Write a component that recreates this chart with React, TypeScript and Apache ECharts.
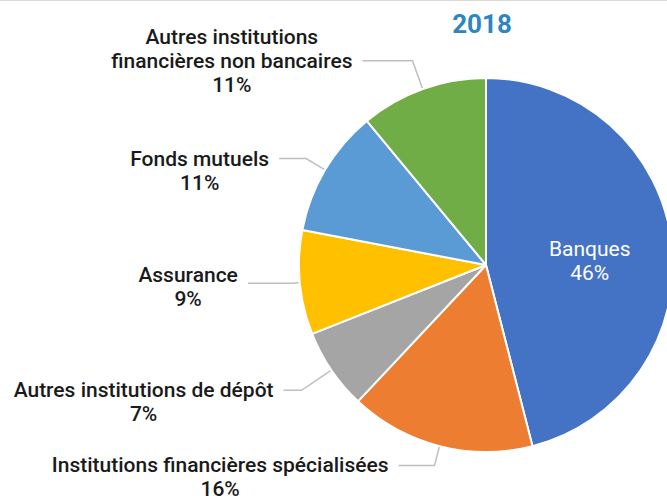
import React, { useEffect, useRef } from "react";
import * as echarts from "echarts";

const title = "2018";
const categories = [
  "Banques",
  "Institutions financières spécialisées",
  "Autres institutions de dépôt",
  "Assurance",
  "Fonds mutuels",
  "Autres institutions\nfinancières non bancaires",
];
const values = [46, 16, 7, 9, 11, 11];
const colors = ["#4472C4", "#ED7D31", "#A5A5A5", "#FFC000", "#5B9BD5", "#70AD47"];
// leader line lengths per slice [length, length2]
const lineLengths: [number, number][] = [
  [0, 0],
  [20, 36],
  [36, 18],
  [7, 45],
  [22, 27],
  [30, 50],
];
// top padding per label (shifts the text block relative to its leader line)
const labelTopPad = [16, 24, 24, 8, 24, 0];

const FONT = "Roboto, 'Noto Sans', sans-serif";

export default function App() {
  const ref = useRef<HTMLDivElement>(null);
  useEffect(() => {
    if (!ref.current) return;
    const chart = echarts.init(ref.current, undefined, { renderer: "svg" });
    const data = categories.map((name, i) => {
      const item: any = {
        name,
        value: values[i],
        itemStyle: { color: colors[i] },
      };
      if (i === 0) {
        item.label = {
          position: "inside",
          padding: [labelTopPad[i], 0, 0, 16],
          formatter: (p: any) => `{w|${p.name}}\n{w|${p.value}%}`,
          rich: {
            w: {
              color: "#ffffff",
              fontSize: 21,
              fontFamily: FONT,
              fontWeight: 400,
              lineHeight: 24,
              align: "center",
            },
          },
        };
      } else {
        item.labelLine = { length: lineLengths[i][0], length2: lineLengths[i][1] };
        item.label = { padding: [labelTopPad[i], 0, 0, 0] };
      }
      return item;
    });
    chart.setOption({
      animation: false,
      backgroundColor: "#ffffff",
      graphic: [
        {
          type: "line",
          shape: { x1: 0, y1: 0.5, x2: 667, y2: 0.5 },
          style: { stroke: "#D9D9D9", lineWidth: 1 },
        },
        {
          type: "text",
          x: 482,
          y: 24,
          style: {
            text: title,
            align: "center",
            verticalAlign: "middle",
            fontSize: 26,
            fontWeight: "bold",
            fontFamily: FONT,
            fill: "#2E86C1",
          },
        },
      ],
      series: [
        {
          type: "pie",
          center: [486, 265],
          radius: 187,
          startAngle: 90,
          clockwise: true,
          avoidLabelOverlap: false,
          itemStyle: { borderColor: "#ffffff", borderWidth: 2 },
          label: {
            show: true,
            position: "outside",
            distanceToLabelLine: 10,
            formatter: (p: any) =>
              p.name
                .split("\n")
                .map((l: string) => `{t|${l}}`)
                .join("\n") + `\n{t|${p.value}%}`,
            rich: {
              t: {
                color: "#1A1A1A",
                fontSize: 21,
                fontFamily: FONT,
                fontWeight: 500,
                lineHeight: 24,
                align: "center",
              },
            },
          },
          labelLine: {
            show: true,
            lineStyle: { color: "#BFBFBF", width: 1.5 },
          },
          emphasis: { disabled: true },
          data,
        },
      ],
    });
    return () => chart.dispose();
  }, []);
  return (
    <div
      ref={ref}
      style={{ position: "absolute", left: 0, top: 0, width: 667, height: 496 }}
    />
  );
}
